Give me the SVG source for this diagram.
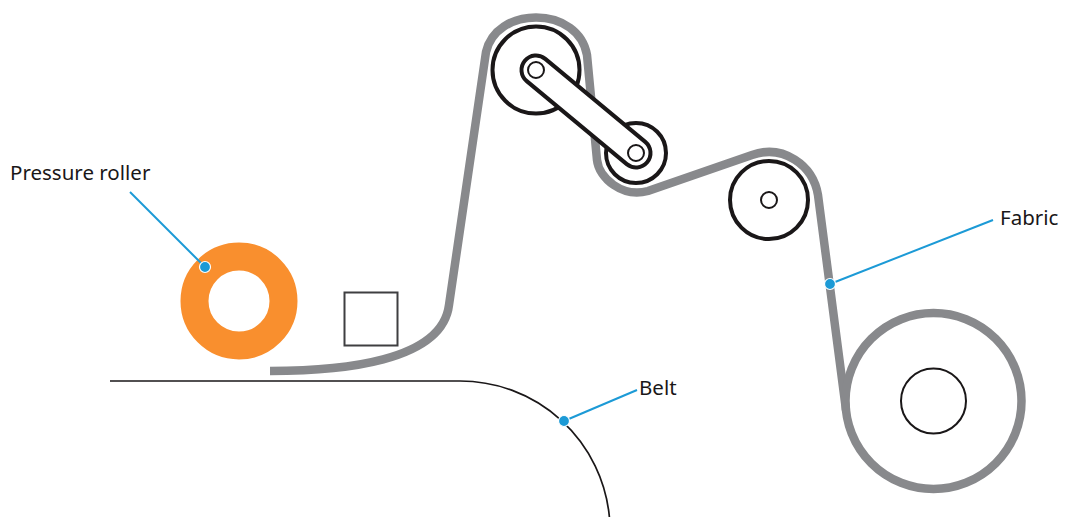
<svg xmlns="http://www.w3.org/2000/svg" width="1073" height="517" viewBox="0 0 1073 517">
<style>
.fabric{fill:none;stroke:#88898c;stroke-width:8.500}
.blk{fill:#fff;stroke:#1a1718;stroke-width:4}
.thin{fill:#fff;stroke:#1a1718;stroke-width:2}
.leader{fill:none;stroke:#1c9ad6;stroke-width:2}
.dot{fill:#1c9ad6;stroke:#fff;stroke-width:1.200}
text{font-family:"Noto Sans","Open Sans",sans-serif;font-size:20.500px;fill:#1a1718}
</style>
<rect width="1073" height="517" fill="#fff"/>
<g id="belt"><path d="M110 381H460A150 150 0 0 1 609.400 517" fill="none" stroke="#1a1718" stroke-width="1.700"/></g>
<g id="fabric-web">
<path class="fabric" d="M270 371C340 371 442 362 449 305L486 52C491 30 512 17.500 536 17.500C562 17.500 583 32 587 55L597 160C599 178 622 198 648 191L752 155C783 144 813 165 818 195L846 410"/>
<circle class="fabric" cx="933.500" cy="401" r="88"/>
</g>
<g id="roller-top"><circle class="blk" cx="536" cy="70" r="43.500"/></g>
<g id="roller-small"><circle class="blk" cx="636" cy="153" r="30"/></g>
<g id="arm">
<line x1="536" y1="70" x2="636" y2="153" stroke="#1a1718" stroke-width="33" stroke-linecap="round"/>
<line x1="536" y1="70" x2="636" y2="153" stroke="#fff" stroke-width="25" stroke-linecap="round"/>
<circle class="thin" cx="536" cy="70" r="8"/>
<circle class="thin" cx="636" cy="153" r="8"/>
</g>
<g id="roller-right"><circle class="blk" cx="769" cy="200" r="39"/><circle class="thin" cx="769" cy="200" r="8"/></g>
<g id="wind-up"><circle class="thin" cx="933.500" cy="401" r="32.500"/></g>
<g id="pressure-roller"><circle cx="239" cy="301" r="44.500" fill="none" stroke="#f98f2e" stroke-width="28"/></g>
<g id="block"><rect x="344.500" y="292.500" width="53" height="53" fill="#fff" stroke="#3f3f41" stroke-width="2"/></g>
<g id="connectors">
<line class="leader" x1="130" y1="192" x2="205" y2="267"/>
<circle class="dot" cx="205" cy="267" r="5.500"/>
<line class="leader" x1="637" y1="390" x2="564" y2="421"/>
<circle class="dot" cx="564" cy="421" r="5.500"/>
<line class="leader" x1="993" y1="220" x2="830" y2="284"/>
<circle class="dot" cx="830" cy="284" r="5.500"/>
</g>
<g id="labels">
<text x="10" y="179.500">Pressure roller</text>
<text x="639" y="395">Belt</text>
<text x="1000" y="225">Fabric</text>
</g>
</svg>
